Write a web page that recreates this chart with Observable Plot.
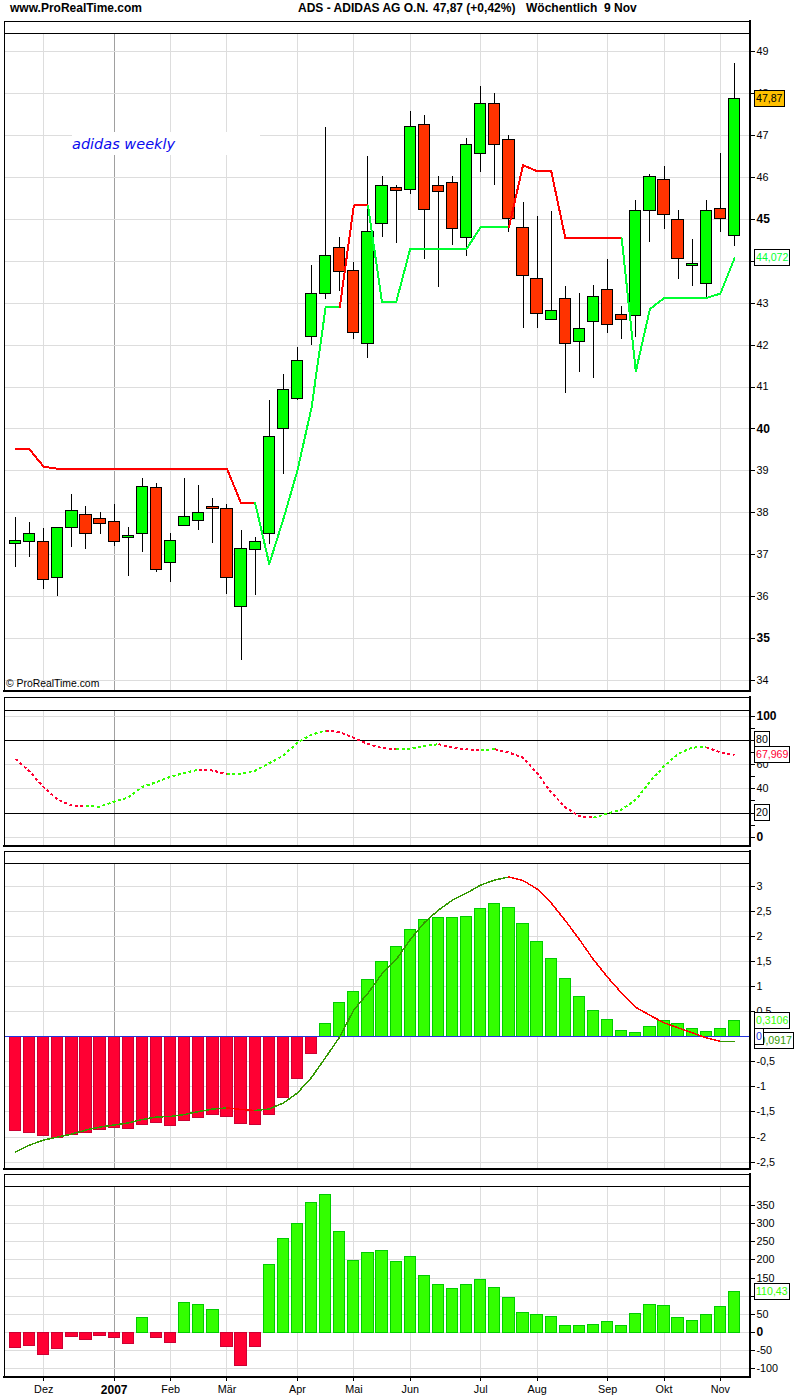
<!DOCTYPE html>
<html>
<head>
<meta charset="utf-8">
<script src="https://cdn.jsdelivr.net/npm/d3@7"></script>
<script src="https://cdn.jsdelivr.net/npm/@observablehq/plot@0.6"></script>
<style>
  html, body { margin: 0; padding: 0; background: #fff; }
  #page { position: relative; width: 800px; height: 1400px; overflow: hidden; font-family: "Liberation Sans", Arial, sans-serif; }
  .panel { position: absolute; left: 0; }
  .panel svg { display: block; }
  .head { position: absolute; top: 0; font-weight: bold; font-size: 12px; line-height: 16px; white-space: pre; color: #000; }
  .box { position: absolute; left: 754px; height: 15px; line-height: 15px; border: 1px solid #000; background: #fff; font-size: 10.6px; padding: 0 1px 0 1px; white-space: pre; }
</style>
</head>
<body>
<div id="page"></div>
<script>
// Candles, one per week
const open  = [37.25,37.31,37.31,36.45,37.64,37.95,37.85,37.78,37.40,37.50,38.59,36.80,37.69,37.81,38.14,38.09,35.76,37.11,37.50,40.00,40.72,42.19,43.22,44.32,43.77,42.03,44.89,45.75,45.70,47.25,45.80,45.87,44.56,46.56,47.75,46.89,44.79,43.58,42.60,43.10,42.08,42.55,43.32,42.72,42.70,45.20,45.94,44.98,43.89,43.46,45.25,44.60];
const close = [37.33,37.50,36.40,37.64,38.04,37.50,37.73,37.31,37.45,38.62,36.64,37.33,37.90,38.00,38.08,36.45,37.14,37.31,39.81,40.94,41.61,43.22,44.13,43.74,42.29,44.70,45.80,45.68,47.20,45.22,45.65,44.77,46.77,47.75,46.77,45.01,43.65,42.74,42.82,42.03,42.39,43.15,42.48,42.60,45.20,46.01,45.10,44.05,43.94,45.20,45.01,47.87];
const high  = [37.90,37.78,37.62,37.66,38.43,38.16,38.00,38.19,37.66,38.83,38.69,37.50,38.81,38.64,38.33,38.19,37.57,37.42,40.68,41.30,41.94,43.90,47.19,44.56,43.98,46.50,46.02,45.80,47.57,47.47,46.02,46.02,46.92,48.16,47.99,46.99,45.39,45.06,45.18,43.39,43.24,43.43,44.05,42.93,45.44,46.08,46.27,45.20,44.51,45.46,46.58,48.71];
const low   = [36.70,36.94,36.18,36.01,37.18,37.13,37.49,37.20,36.49,37.06,36.58,36.34,37.69,37.58,37.27,36.06,34.48,36.03,37.25,38.92,40.68,41.99,43.09,43.28,42.14,41.68,44.57,44.43,45.60,44.05,43.38,44.38,44.12,46.12,45.81,44.69,42.40,42.40,42.60,40.84,41.35,41.21,42.28,42.14,42.19,44.45,44.76,43.57,43.40,43.12,44.69,44.36];
// Trend stop over the candles; 1 = rising stretch, 0 = falling stretch
const trend = [39.51,39.51,39.10,39.05,39.05,39.05,39.05,39.05,39.05,39.05,39.05,39.05,39.05,39.05,39.05,39.05,38.23,38.23,36.78,37.85,39.01,40.51,42.90,42.90,45.33,45.33,43.02,43.02,44.30,44.30,44.30,44.30,44.30,44.81,44.81,44.81,46.29,46.15,46.15,44.55,44.55,44.55,44.55,44.55,41.37,42.86,43.12,43.12,43.12,43.12,43.23,44.07];
const trendUp = [0,0,0,0,0,0,0,0,0,0,0,0,0,0,0,0,0,1,1,1,1,1,1,0,0,1,1,1,1,1,1,1,1,1,1,0,0,0,0,0,0,0,0,1,1,1,1,1,1,1,1,1];
// RSI-style oscillator
const osc = [64.7,54.3,41.3,31.1,26.2,25.6,25.3,29.5,32.8,41.6,45.5,50.1,53.2,55.9,55.1,52.1,52.3,55.1,61.2,67.5,78.2,84.8,88.2,86.8,82.1,77.1,73.6,73.0,73.3,75.5,76.9,74.1,72.7,71.9,72.7,70.0,65.8,52.9,37.2,24.8,17.4,16.3,19.6,22.9,31.1,46.0,58.7,68.9,74.1,74.4,70.2,67.969];
const oscUp = [0,0,0,0,0,1,1,1,1,1,1,1,1,0,0,1,1,1,1,1,1,1,0,0,0,0,0,1,1,1,0,0,0,1,0,0,0,0,0,0,0,1,1,1,1,1,1,1,1,0,0,0];
// MACD-style histogram and its signal line
const hist = [-1.88,-1.92,-1.98,-2.02,-1.96,-1.92,-1.86,-1.82,-1.84,-1.76,-1.72,-1.78,-1.68,-1.62,-1.56,-1.60,-1.74,-1.76,-1.56,-1.22,-0.84,-0.35,0.26,0.68,0.90,1.14,1.50,1.80,2.14,2.34,2.38,2.38,2.40,2.56,2.66,2.58,2.26,1.90,1.56,1.16,0.80,0.52,0.34,0.12,0.08,0.20,0.32,0.26,0.16,0.10,0.16,0.3106];
const signal = [-2.30,-2.16,-2.06,-2.00,-1.94,-1.86,-1.80,-1.76,-1.72,-1.65,-1.60,-1.59,-1.55,-1.49,-1.44,-1.42,-1.45,-1.47,-1.44,-1.32,-1.12,-0.81,-0.41,0.00,0.54,0.87,1.26,1.54,1.94,2.28,2.53,2.73,2.87,3.03,3.13,3.19,3.12,2.95,2.67,2.32,1.94,1.54,1.19,0.87,0.59,0.43,0.28,0.18,0.08,-0.02,-0.09,-0.0917];
const signalUp = [1,1,1,1,1,1,1,1,1,1,1,1,1,1,1,0,0,1,1,1,1,1,1,1,1,1,1,1,1,1,1,1,1,1,1,0,0,0,0,0,0,0,0,0,0,0,0,0,0,0,1,1];
// Momentum-style histogram
const momentum = [-42,-37,-62,-45,-12,-20,-9,-15,-31,39,-15,-28,80,77,63,-39,-92,-39,185,259,300,358,378,276,196,220,226,193,209,157,130,121,130,146,124,94,55,47,44,17,19,22,28,17,52,77,72,41,33,47,69,110.43];

// Month ticks on the week index
const monthWeeks  = [2,11,15,20,24,28,33,37,42,46,50];
const monthLabels = ["Dez","Feb","Mär","Apr","Mai","Jun","Jul","Aug","Sep","Okt","Nov"];
const yearWeeks   = [7];
const yearLabels  = ["2007"];

const priceTicks = [49,48,47,46,44,43,42,41,39,38,37,36,34];
const priceBold  = [45,40,35];
const oscTicks   = [60,40];
const oscBold    = [100,0];
const oscMinor   = [90,70,50,30,10];
const oscLevels  = [80,20];
const histTicks  = [3,2.5,2,1.5,1,0.5,-0.5,-1,-1.5,-2,-2.5];
const momTicks   = [350,300,250,200,150,100,50,-50,-100];
const momBold    = [0];

const GRID = "#dddddd", YEARGRID = "#a0a0a0";
const CANDLE_UP = "#00ff00", CANDLE_DOWN = "#ff3300";
const LINE_UP = "#00ff33", LINE_DOWN = "#ff0000";
const BAR_UP = "#33ff00", BAR_DOWN = "#ff0033", EDGE_UP = "#00cc00", EDGE_DOWN = "#cc0033";
const SIGNAL_UP = "#339900", SIGNAL_DOWN = "#ff0000", ZERO = "#2233dd";
const halfBar = 0.40;
const TICK_FONT = 10.8;

const rows = open.map((o, i) => ({
  i, open: o, close: close[i], high: high[i], low: low[i], trend: trend[i], trendUp: trendUp[i],
  osc: osc[i], oscUp: oscUp[i], hist: hist[i], signal: signal[i], signalUp: signalUp[i], momentum: momentum[i]
}));

const comma = d => String(d).replace(".", ",");
const page = document.getElementById("page");

function panel({top, height, marginTop, marginBottom, domain, head, marks}) {
  const crisp = {shapeRendering: "crispEdges"};
  const plot = Plot.plot({
    width: 800, height, marginLeft: 3.5, marginRight: 51, marginTop, marginBottom,
    style: {background: "#fff", fontFamily: "'Liberation Sans', Arial, sans-serif", fontSize: "11px", overflow: "visible"},
    x: {domain: [0, 51], range: [15, 734], axis: null},
    y: {domain, axis: null},
    color: {type: "identity"},
    marks: [
      Plot.ruleX(monthWeeks, {x: d => d, y1: domain[0], y2: head, stroke: GRID, ...crisp}),
      Plot.ruleX(yearWeeks, {x: d => d, y1: domain[0], y2: head, stroke: YEARGRID, ...crisp}),
      ...marks,
      Plot.ruleY([head], {stroke: "#000", ...crisp}),
      Plot.frame({anchor: "left", stroke: "#000", ...crisp}),
      Plot.frame({anchor: "top", stroke: "#000", ...crisp}),
      Plot.frame({anchor: "right", stroke: "#000", strokeWidth: 2, ...crisp}),
      Plot.frame({anchor: "bottom", stroke: "#000", strokeWidth: 2, ...crisp})
    ]
  });
  const holder = document.createElement("div");
  holder.className = "panel";
  holder.style.top = top + "px";
  holder.appendChild(plot);
  page.appendChild(holder);
  return {plot, top};
}

const crisp = {shapeRendering: "crispEdges"};
const gridY = (ticks) => Plot.ruleY(ticks, {y: d => d, stroke: GRID, ...crisp});
const axis = (ticks, opts = {}) => Plot.axisY(ticks, {anchor: "right", tickSize: 5, tickPadding: 2, label: null, fontSize: TICK_FONT, tickFormat: comma, ...crisp, ...opts});
const boldAxis = (ticks) => axis(ticks, {fontWeight: "bold", fontSize: 12});

// Price panel
const pricePanel = panel({
  top: 20, height: 672, marginTop: 0.5, marginBottom: 1.5, domain: [33.75, 49.73], head: 49.42,
  marks: [
    gridY([...priceTicks, ...priceBold]),
    Plot.ruleX(rows, {x: "i", y1: "low", y2: "high", stroke: "#000", ...crisp}),
    Plot.rect(rows, {x1: d => d.i - halfBar, x2: d => d.i + halfBar, y1: "open", y2: "close",
      fill: d => d.close >= d.open ? CANDLE_UP : CANDLE_DOWN, stroke: "#000", ...crisp}),
    Plot.line(rows, {x: "i", y: "trend", z: null, stroke: d => d.trendUp ? LINE_UP : LINE_DOWN, strokeWidth: 2, ...crisp}),
    axis(priceTicks), boldAxis(priceBold)
  ]
});

// Oscillator panel
const oscPanel = panel({
  top: 695, height: 151, marginTop: 1.5, marginBottom: 1, domain: [-6.8, 115.9], head: 105,
  marks: [
    gridY([...oscTicks, ...oscBold]),
    Plot.ruleY(oscLevels, {y: d => d, stroke: "#000", ...crisp}),
    Plot.line(rows, {x: "i", y: "osc", z: null, stroke: d => d.oscUp ? BAR_UP : BAR_DOWN, strokeWidth: 2, strokeDasharray: "3,2.5", strokeLinecap: "butt", ...crisp}),
    axis(oscMinor, {text: null}), axis(oscLevels), axis(oscTicks), boldAxis(oscBold)
  ]
});

// Histogram + signal panel
const histPanel = panel({
  top: 850, height: 319, marginTop: 0.5, marginBottom: 1, domain: [-2.628, 3.709], head: 3.45,
  marks: [
    gridY(histTicks),
    Plot.rect(rows, {x1: d => d.i - halfBar, x2: d => d.i + halfBar, y1: 0, y2: "hist",
      fill: d => d.hist >= 0 ? BAR_UP : BAR_DOWN, stroke: d => d.hist >= 0 ? EDGE_UP : EDGE_DOWN, ...crisp}),
    Plot.ruleY([0], {stroke: ZERO, ...crisp}),
    Plot.line(rows, {x: "i", y: "signal", z: null, stroke: d => d.signalUp ? SIGNAL_UP : SIGNAL_DOWN, strokeWidth: 1.5, ...crisp}),
    axis(histTicks)
  ]
});

// Momentum panel with the month axis
const momPanel = panel({
  top: 1173, height: 227, marginTop: 0.5, marginBottom: 24, domain: [-121.2, 436.8], head: 402,
  marks: [
    gridY([...momTicks, ...momBold]),
    Plot.rect(rows, {x1: d => d.i - halfBar, x2: d => d.i + halfBar, y1: 0, y2: "momentum",
      fill: d => d.momentum >= 0 ? BAR_UP : BAR_DOWN, stroke: d => d.momentum >= 0 ? EDGE_UP : EDGE_DOWN, ...crisp}),
    axis(momTicks), boldAxis(momBold),
    Plot.axisX(monthWeeks, {anchor: "bottom", tickSize: 5, tickPadding: 4, fontSize: TICK_FONT, label: null,
      tickFormat: d => monthLabels[monthWeeks.indexOf(d)], ...crisp}),
    Plot.axisX(yearWeeks, {anchor: "bottom", tickSize: 5, tickPadding: 4, fontSize: 12, fontWeight: "bold", label: null,
      tickFormat: d => yearLabels[yearWeeks.indexOf(d)], ...crisp})
  ]
});

// Header strip
[
  ["www.ProRealTime.com", 10], ["ADS - ADIDAS AG O.N.", 298], ["47,87 (+0,42%)", 433], ["Wöchentlich  9 Nov", 526]
].forEach(([t, x]) => {
  const el = document.createElement("div");
  el.className = "head"; el.textContent = t; el.style.left = x + "px";
  page.appendChild(el);
});

// Last-value boxes, placed through each panel's own y scale
function box({plot, top}, value, text, color, background = "#fff") {
  const el = document.createElement("div");
  el.className = "box"; el.textContent = text; el.style.color = color; el.style.background = background;
  el.style.top = (top + plot.scale("y").apply(value) - 8.5) + "px";
  page.appendChild(el);
}
box(pricePanel, 47.87, "47,87", "#000", "#ffc000");
box(pricePanel, 44.072, "44,072", "#00ff33");
box(oscPanel, 80, "80", "#000");
box(oscPanel, 20, "20", "#000");
box(oscPanel, 67.969, "67,969", "#ff0033");
box(histPanel, -0.0917, "-0,0917", "#339900");
box(histPanel, 0, "0", "#2233dd");
box(histPanel, 0.3106, "0,3106", "#33ff00");
box(momPanel, 110.43, "110,43", "#33ff00");

// Chart annotations
const note = document.createElement("div");
note.textContent = "adidas weekly";
note.style.cssText = "position:absolute;left:72px;top:132px;width:188px;height:23px;background:#fff;color:#0a0aee;font:italic 14.5px/25px 'DejaVu Sans',sans-serif;white-space:pre;";
page.appendChild(note);
const copy = document.createElement("div");
copy.textContent = "© ProRealTime.com";
copy.style.cssText = "position:absolute;left:6px;top:677px;font-size:10.4px;line-height:14px;color:#000;white-space:pre;";
page.appendChild(copy);
</script>
</body>
</html>
